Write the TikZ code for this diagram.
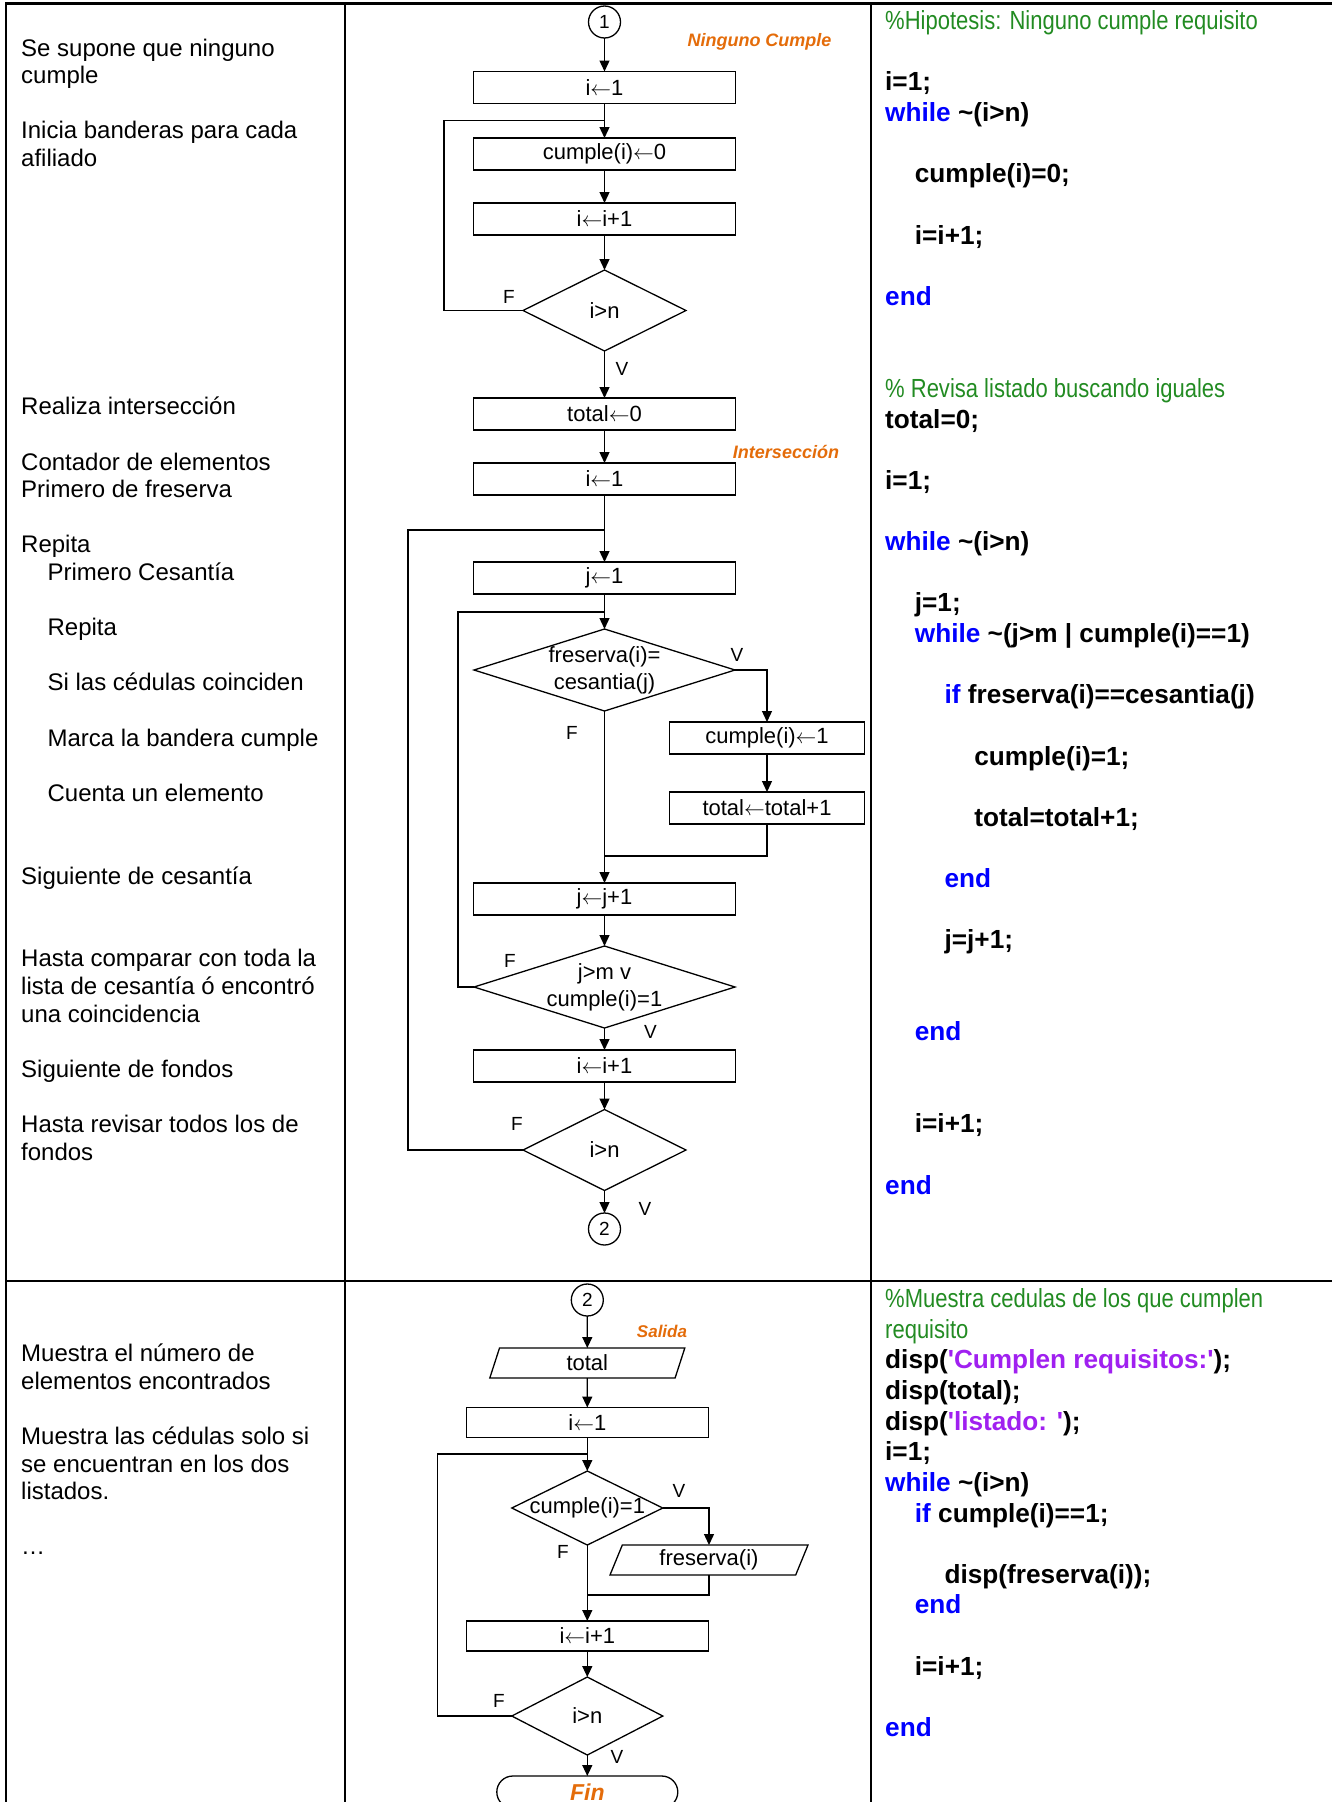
\documentclass[tikz,border=0pt]{standalone}
\usepackage{fontspec}
\setmainfont{Liberation Sans}
\newfontfamily\narrowfont[FakeStretch=0.84]{Liberation Sans}
\usetikzlibrary{positioning, shapes.geometric, arrows.meta}

\definecolor{cmtgreen}{RGB}{34,139,34}
\definecolor{kwblue}{RGB}{0,0,255}
\definecolor{strpurple}{RGB}{160,32,240}
\definecolor{tagorange}{RGB}{228,108,10}

\newcommand\kw[1]{\textcolor{kwblue}{#1}}
\newcommand\str[1]{\textcolor{strpurple}{#1}}
\newcommand\cmt{\narrowfont\mdseries\color{cmtgreen}}
\newcommand\la{\ensuremath{\leftarrow}}

\tikzset{
  tbl/.style={line width=2.5pt},
  wire/.style={line width=1.3pt},
  flow/.style={line width=1.3pt, -{Triangle[length=11pt,width=10pt]}},
  proc/.style={draw, line width=1.3pt, outer sep=0pt, minimum width=262pt, minimum height=32pt,
    inner sep=0pt, font=\fontsize{22}{26}\selectfont},
  decision/.style={diamond, draw, line width=1.3pt, outer sep=0pt, shape aspect=3, inner sep=-20pt,
    align=center, font=\fontsize{22}{27}\selectfont},
  io/.style={trapezium, trapezium left angle=59, trapezium right angle=121,
    trapezium stretches body, draw, line width=1.3pt, outer sep=0pt, minimum height=30pt,
    inner sep=0pt, font=\fontsize{22}{26}\selectfont},
  conn/.style={circle, draw, line width=1.3pt, outer sep=0pt, minimum size=32pt, inner sep=0pt,
    font=\fontsize{19}{22}\selectfont},
  term/.style={draw, rounded corners=16pt, line width=1.3pt, outer sep=0pt, minimum width=181pt,
    minimum height=32pt, text=tagorange, font=\fontsize{23}{27}\selectfont\bfseries\itshape},
  fv/.style={inner sep=0pt, font=\fontsize{19}{22}\selectfont},
  tag/.style={inner sep=0pt, text=tagorange, font=\fontsize{18}{21}\selectfont\bfseries\itshape},
  note/.style={anchor=base west, inner sep=0pt, font=\fontsize{24}{27.6}\selectfont},
  code/.style={anchor=base west, inner sep=0pt, font=\fontsize{26.2}{30}\selectfont\bfseries},
}

\begin{document}
\begin{tikzpicture}[x=1pt,y=-1pt]

  \useasboundingbox (0,0) rectangle (1332,1802);
  \clip (0,0) rectangle (1332,1802);

  \draw[tbl] (1340,3.5) -- (6,3.5) -- (6,1810);
  \draw[tbl] (345,3.5) -- (345,1810);
  \draw[tbl] (871,3.5) -- (871,1810);
  \draw[tbl] (6,1281) -- (1340,1281);

  \foreach \n/\k/\txt in {0/0/Se supone que ninguno, 1/0/cumple,
      3/0/Inicia banderas para cada, 4/0/afiliado, 13/0/Realiza intersección,
      15/0/Contador de elementos, 16/0/Primero de freserva, 18/0/Repita,
      19/1/Primero Cesantía, 21/1/Repita, 23/1/Si las cédulas coinciden,
      25/1/Marca la bandera cumple, 27/1/Cuenta un elemento,
      30/0/Siguiente de cesantía, 33/0/Hasta comparar con toda la,
      34/0/lista de cesantía ó encontró, 35/0/una coincidencia,
      37/0/Siguiente de fondos, 39/0/Hasta revisar todos los de, 40/0/fondos}
    \node[note] (note_\n) at (21+26.4*\k, 56+27.6*\n) {\txt};

  \foreach \n/\txt in {0/Muestra el número de, 1/elementos encontrados,
      3/Muestra las cédulas solo si, 4/se encuentran en los dos, 5/listados., 7/…}
    \node[note] (note_b\n) at (21, 1361.6+27.6*\n) {\txt};

  \foreach \n/\k/\txt in {0/0/{\cmt\%Hipotesis: Ninguno cumple requisito},
      2/0/i=1;, 3/0/{\kw{while} \textasciitilde(i>n)}, 5/1/cumple(i)=0;,
      7/1/i=i+1;, 9/0/{\kw{end}}, 12/0/{\cmt\% Revisa listado buscando iguales},
      13/0/total=0;, 15/0/i=1;, 17/0/{\kw{while} \textasciitilde(i>n)}, 19/1/j=1;,
      20/1/{\kw{while} \textasciitilde(j>m | cumple(i)==1)},
      22/2/{\kw{if} freserva(i)==cesantia(j)}, 24/3/cumple(i)=1;,
      26/3/total=total+1;, 28/2/{\kw{end}}, 30/2/j=j+1;, 33/1/{\kw{end}},
      36/1/i=i+1;, 38/0/{\kw{end}}}
    \node[code] (code_\n) at (885+29.7*\k, 29.7+30.64*\n) {\txt};

  \foreach \n/\k/\txt in {0/0/{\cmt\%Muestra cedulas de los que cumplen},
      1/0/{\cmt requisito},
      2/0/{disp(\str{\textquotesingle Cumplen requisitos:\textquotesingle});},
      3/0/disp(total);, 4/0/{disp(\str{\textquotesingle listado: \textquotesingle});},
      5/0/i=1;, 6/0/{\kw{while} \textasciitilde(i>n)}, 7/1/{\kw{if} cumple(i)==1;},
      9/2/disp(freserva(i));, 10/1/{\kw{end}}, 12/1/i=i+1;, 14/0/{\kw{end}}}
    \node[code] (code_b\n) at (885+29.7*\k, 1307.7+30.62*\n) {\txt};

  \node[conn] (c_1) at (604.5,22) {1};
  \node[proc, below=33.5pt of c_1] (i_init) {i\la1};
  \node[proc, below=34.5pt of i_init] (cumple_0) {cumple(i)\la0};
  \node[proc, below=33pt of cumple_0] (i_next) {i\la i+1};
  \node[decision, minimum width=163pt, minimum height=81pt, below=35pt of i_next] (i_test) {i>n};
  \node[proc, below=47pt of i_test] (total_0) {total\la0};
  \node[proc, below=33pt of total_0] (i_init2) {i\la1};
  \node[proc, below=67pt of i_init2] (j_init) {j\la1};
  \node[decision, minimum width=261pt, minimum height=82pt, below=35pt of j_init] (f_eq_c) {freserva(i)=\\cesantia(j)};
  \node[proc, minimum width=195pt, anchor=north] (cumple_1) at ([xshift=32pt,yshift=-52pt]f_eq_c.east) {cumple(i)\la1};
  \node[proc, minimum width=195pt, below=38pt of cumple_1] (total_inc) {total\la total+1};
  \node[proc, below=172pt of f_eq_c] (j_next) {j\la j+1};
  \node[decision, minimum width=261pt, minimum height=82pt, below=31pt of j_next] (j_test) {j>m v\\cumple(i)=1};
  \node[proc, below=22pt of j_test] (i_next2) {i\la i+1};
  \node[decision, minimum width=163pt, minimum height=81pt, below=27.5pt of i_next2] (i_test2) {i>n};
  \node[conn, below=22.5pt of i_test2] (c_2) {2};

  \node[tag] (tag_ninguno) at (759.5,42) {Ninguno Cumple};
  \node[tag] (tag_inter) at (786,452) {Intersección};

  \coordinate[below=17pt of i_init] (loop_a);
  \coordinate[below=35pt of i_init2] (loop_b);
  \coordinate[below=18pt of j_init] (loop_c);
  \coordinate[below=145pt of f_eq_c] (join_a);

  \draw[flow] (c_1) -- (i_init);
  \draw[flow] (i_init) -- (cumple_0);
  \draw[flow] (cumple_0) -- (i_next);
  \draw[flow] (i_next) -- (i_test);
  \draw[wire] (i_test.west) -- ++(-79,0) |- (loop_a);
  \draw[flow] (i_test) -- (total_0);
  \draw[flow] (total_0) -- (i_init2);
  \draw[flow] (i_init2) -- (j_init);
  \draw[flow] (j_init) -- (f_eq_c);
  \draw[flow] (f_eq_c.east) -| (cumple_1.north);
  \draw[flow] (cumple_1) -- (total_inc);
  \draw[wire] (total_inc.south) |- (join_a);
  \draw[flow] (f_eq_c) -- (j_next);
  \draw[flow] (j_next) -- (j_test);
  \draw[wire] (j_test.west) -- ++(-16,0) |- (loop_c);
  \draw[flow] (j_test) -- (i_next2);
  \draw[flow] (i_next2) -- (i_test2);
  \draw[wire] (i_test2.west) -- ++(-115,0) |- (loop_b);
  \draw[flow] (i_test2) -- (c_2);

  \node[fv] (f_1) at (509,296.5) {F};
  \node[fv] (v_1) at (622,369) {V};
  \node[fv] (v_2) at (737,655) {V};
  \node[fv] (f_2) at (572,733) {F};
  \node[fv] (f_3) at (510,961) {F};
  \node[fv] (v_3) at (650.5,1032) {V};
  \node[fv] (f_4) at (517,1124) {F};
  \node[fv] (v_4) at (645,1209) {V};

  \node[conn] (c_3) at (587.3,1300) {2};
  \node[io, minimum width=195pt, below=32pt of c_3] (out_total) {total};
  \node[proc, minimum width=242pt, minimum height=30pt, below=29.5pt of out_total] (i_init3) {i\la1};
  \node[decision, minimum width=151pt, minimum height=74pt, below=33.5pt of i_init3] (cumple_t) {cumple(i)=1};
  \node[io, minimum width=198pt, anchor=north] (out_fres) at ([xshift=121.7pt]cumple_t.south) {freserva(i)};
  \node[proc, minimum width=242pt, minimum height=30pt, below=76pt of cumple_t] (i_next3) {i\la i+1};
  \node[decision, minimum width=151pt, minimum height=78pt, below=26pt of i_next3] (i_test3) {i>n};
  \node[term, below=21pt of i_test3] (fin) {Fin};

  \node[tag, font=\fontsize{17}{20}\selectfont\bfseries\itshape] (tag_salida) at (662,1331) {Salida};

  \coordinate[below=16.5pt of i_init3] (loop_d);
  \coordinate[below=50pt of cumple_t] (join_b);

  \draw[flow] (c_3) -- (out_total);
  \draw[flow] (out_total) -- (i_init3);
  \draw[flow] (i_init3) -- (cumple_t);
  \draw[flow] (cumple_t.east) -| (out_fres.north);
  \draw[wire] (out_fres.south) |- (join_b);
  \draw[flow] (cumple_t) -- (i_next3);
  \draw[flow] (i_next3) -- (i_test3);
  \draw[wire] (i_test3.west) -- ++(-74.6,0) |- (loop_d);
  \draw[flow] (i_test3) -- (fin);

  \node[fv] (v_5) at (679,1490.6) {V};
  \node[fv] (f_5) at (563,1551.5) {F};
  \node[fv] (f_6) at (499,1701) {F};
  \node[fv] (v_6) at (617,1757) {V};

\end{tikzpicture}
\end{document}
